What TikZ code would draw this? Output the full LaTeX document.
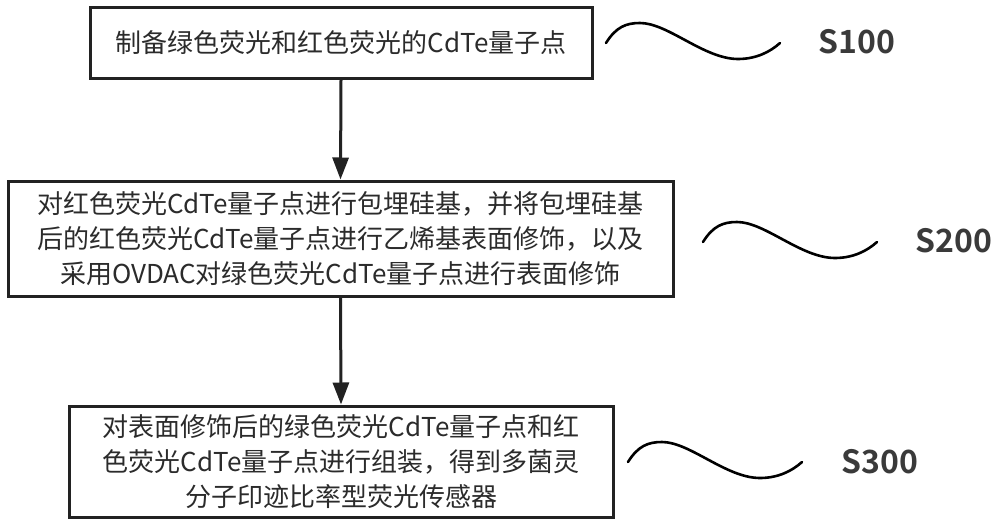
\documentclass[tikz,border=0pt]{standalone}
\usepackage{fontspec}
\usetikzlibrary{arrows.meta}
\newfontfamily\cjk{Noto Sans CJK SC}[BoldFont={Noto Sans CJK SC Bold}]
\definecolor{ink}{HTML}{222222}
\definecolor{txt}{HTML}{2B2B2B}
\definecolor{lab}{HTML}{3A3A3A}
\tikzset{
  stepbox/.style={draw=ink, line width=3pt, fill=white, align=center, inner sep=0pt,
    text=txt, font=\cjk\fontsize{26}{35}\selectfont},
  arr/.style={draw=ink, line width=3pt, -{Triangle[width=16pt,length=22pt]}},
  wave/.style={draw=black, line width=2.6pt, line cap=round},
  steplabel/.style={text=lab, font=\cjk\bfseries\fontsize{32}{32}\selectfont, inner sep=0pt}
}
\begin{document}
\begin{tikzpicture}[x=1pt,y=-1pt]
\useasboundingbox (0,0) rectangle (1000,527);
\node[stepbox, minimum width=502pt, minimum height=70pt] (b1) at (341,43)
  {制备绿色荧光和红色荧光的CdTe量子点};
\node[stepbox, minimum width=665pt, minimum height=115pt] (b2) at (340.5,238.5)
  {对红色荧光CdTe量子点进行包埋硅基，并将包埋硅基\\后的红色荧光CdTe量子点进行乙烯基表面修饰，以及\\采用OVDAC对绿色荧光CdTe量子点进行表面修饰};
\node[stepbox, minimum width=544pt, minimum height=111pt] (b3) at (341,461.5)
  {对表面修饰后的绿色荧光CdTe量子点和红\\色荧光CdTe量子点进行组装，得到多菌灵\\分子印迹比率型荧光传感器};
\draw[arr] (b1.south) -- (b2.north);
\draw[arr] (b2.south) -- (b3.north);
\foreach \sx/\sy in {606/43, 703/242, 628/462}{
  \draw[wave, shift={(\sx,\sy)}] (0,0) .. controls (10,-16) and (20,-20) .. (34,-20)
    .. controls (62,-20) and (98,16) .. (132,16)
    .. controls (150,16) and (164,9) .. (174,0);
}
\node[steplabel] (s1) at (857,42) {S100};
\node[steplabel] (s2) at (954,241) {S200};
\node[steplabel] (s3) at (880,462) {S300};
\end{tikzpicture}
\end{document}
